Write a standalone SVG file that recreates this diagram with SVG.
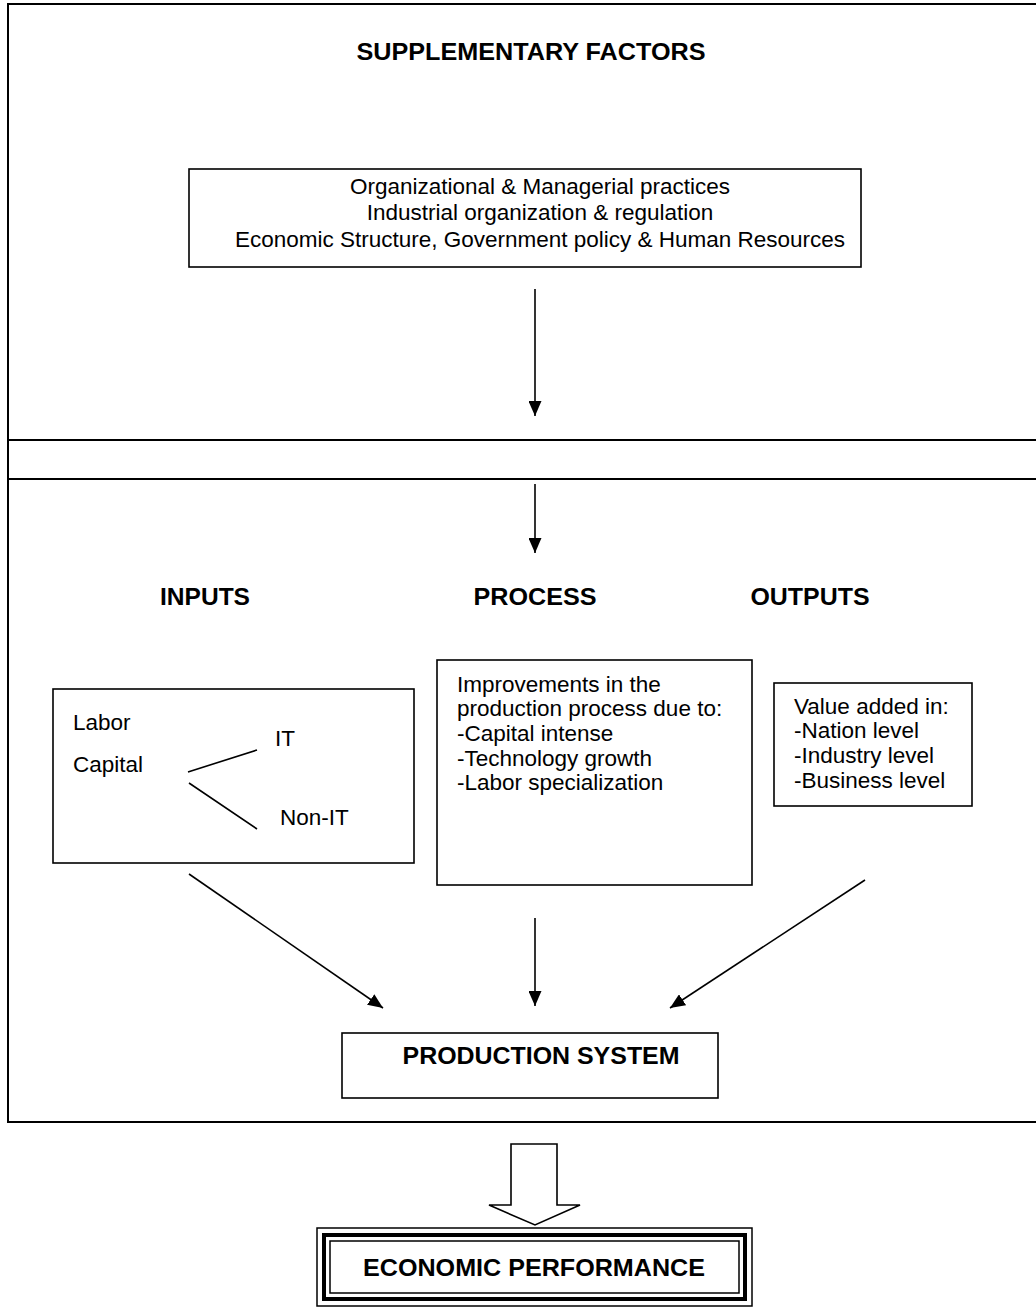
<svg xmlns="http://www.w3.org/2000/svg" width="1036" height="1308" viewBox="0 0 1036 1308">
<style>
.frame{fill:none;stroke:#000;stroke-width:2}
.box{fill:#fff;stroke:#000;stroke-width:1.6}
.t{font-family:"Liberation Sans",Arial,sans-serif;font-size:22.5px;fill:#000}
.b{font-family:"Liberation Sans",Arial,sans-serif;font-size:24px;font-weight:bold;fill:#000}
.c{text-anchor:middle}
.ln{stroke:#000;stroke-width:1.6;fill:none}
</style>
<defs>
<marker id="ah" viewBox="0 0 15 13" refX="15" refY="6.5" markerWidth="15" markerHeight="13" markerUnits="userSpaceOnUse" orient="auto">
<path d="M0,0 L15,6.5 L0,13 Z" fill="#000"/>
</marker>
</defs>
<rect width="1036" height="1308" fill="#fff"/>
<g id="frame">
<path class="frame" d="M1040,4 H8 V1122 H1040"/>
<path class="frame" d="M8,440 H1040 M8,479 H1040"/>
</g>
<g id="supplementary">
<text class="b c" x="531" y="60" textLength="349" lengthAdjust="spacingAndGlyphs">SUPPLEMENTARY FACTORS</text>
<rect class="box" x="189" y="169" width="672" height="98"/>
<text class="t c" x="540" y="194">Organizational &amp; Managerial practices</text>
<text class="t c" x="540" y="220">Industrial organization &amp; regulation</text>
<text class="t c" x="540" y="247">Economic Structure, Government policy &amp; Human Resources</text>
</g>
<g id="headings">
<text class="b c" x="205" y="605" textLength="90" lengthAdjust="spacingAndGlyphs">INPUTS</text>
<text class="b c" x="535" y="605" textLength="123" lengthAdjust="spacingAndGlyphs">PROCESS</text>
<text class="b c" x="810" y="605" textLength="119" lengthAdjust="spacingAndGlyphs">OUTPUTS</text>
</g>
<g id="inputs">
<rect class="box" x="53" y="689" width="361" height="174"/>
<text class="t" x="73" y="730">Labor</text>
<text class="t" x="73" y="772">Capital</text>
<text class="t" x="275" y="746">IT</text>
<text class="t" x="280" y="825">Non-IT</text>
<path class="ln" d="M188,772 L257,750 M189,783 L257,829"/>
</g>
<g id="process">
<rect class="box" x="437" y="660" width="315" height="225"/>
<text class="t" x="457" y="692">Improvements in the</text>
<text class="t" x="457" y="716">production process due to:</text>
<text class="t" x="457" y="741">-Capital intense</text>
<text class="t" x="457" y="766">-Technology growth</text>
<text class="t" x="457" y="790">-Labor specialization</text>
</g>
<g id="outputs">
<rect class="box" x="774" y="683" width="198" height="123"/>
<text class="t" x="794" y="714">Value added in:</text>
<text class="t" x="794" y="738">-Nation level</text>
<text class="t" x="794" y="763">-Industry level</text>
<text class="t" x="794" y="788">-Business level</text>
</g>
<g id="production">
<rect class="box" x="342" y="1033" width="376" height="65"/>
<text class="b c" x="541" y="1064" textLength="277" lengthAdjust="spacingAndGlyphs">PRODUCTION SYSTEM</text>
</g>
<g id="economic">
<rect x="317" y="1228" width="435" height="78" fill="#fff" stroke="#000" stroke-width="1.5"/>
<rect x="324" y="1235" width="421" height="64" fill="none" stroke="#000" stroke-width="4"/>
<rect x="330" y="1241" width="409" height="52" fill="none" stroke="#000" stroke-width="1.5"/>
<text class="b c" x="534" y="1276" textLength="342" lengthAdjust="spacingAndGlyphs">ECONOMIC PERFORMANCE</text>
</g>
<g id="connectors">
<line class="ln" x1="535" y1="289" x2="535" y2="416" marker-end="url(#ah)"/>
<line class="ln" x1="535" y1="484" x2="535" y2="553" marker-end="url(#ah)"/>
<line class="ln" x1="189" y1="874" x2="383" y2="1008" marker-end="url(#ah)"/>
<line class="ln" x1="535" y1="918" x2="535" y2="1006" marker-end="url(#ah)"/>
<line class="ln" x1="865" y1="880" x2="670" y2="1008" marker-end="url(#ah)"/>
<path d="M511,1144 H557 V1205 H580 L535,1225 L489,1205 H511 Z" fill="#fff" stroke="#000" stroke-width="1.6"/>
</g>
</svg>
